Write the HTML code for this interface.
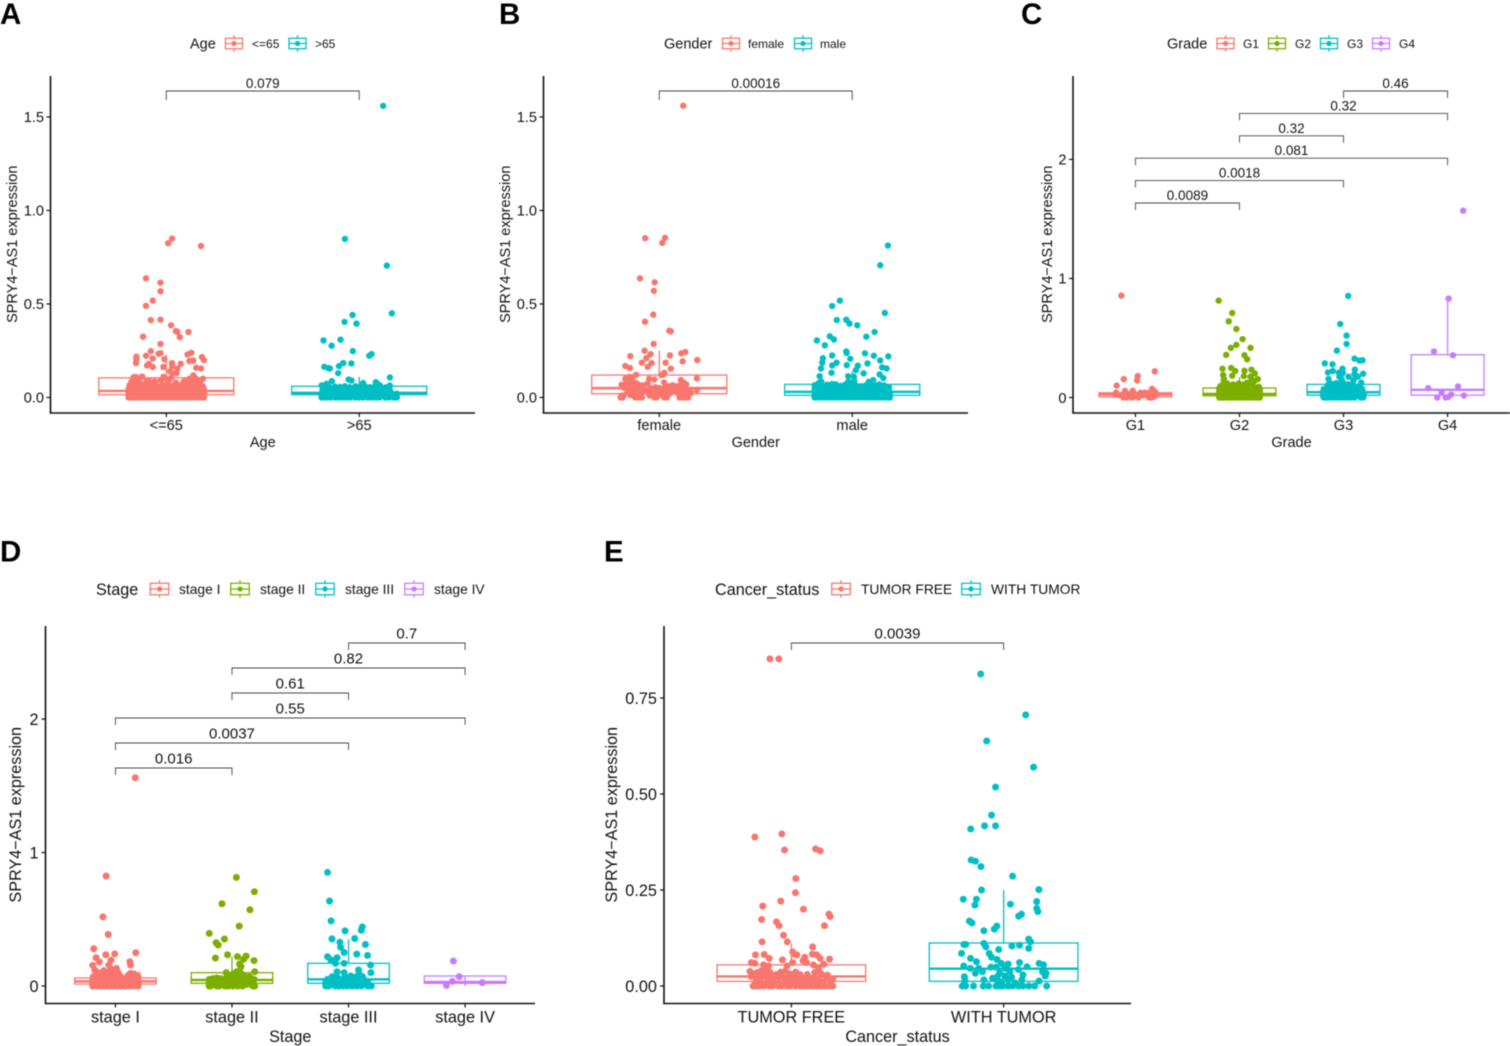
<!DOCTYPE html>
<html lang="en">
<head>
<meta charset="utf-8">
<title>SPRY4-AS1 expression by clinical variable</title>
<style>
html,body{margin:0;padding:0;background:#fff;width:1510px;height:1046px;overflow:hidden}
svg{display:block;filter:blur(0.5px)}
text{font-family:"Liberation Sans",Arial,sans-serif;fill:#111}
</style>
</head>
<body>
<svg id="figure" xmlns="http://www.w3.org/2000/svg" width="1510" height="1046" viewBox="0 0 1510 1046"></svg>
<script>
const twoColors = ['#F8766D', '#00BFC4'];
const fourColors = ['#F8766D', '#7CAE00', '#00BFC4', '#C77CFF'];

/* ---------- A: Age ---------- */
const ageCategories = ['<=65', '>65'];
const ageTicks = [0, 0.5, 1, 1.5];
const ageTickLabels = ['0.0', '0.5', '1.0', '1.5'];
const ageBoxes = [[0, 0.015, 0.035, 0.105, 0.23], [0, 0.015, 0.025, 0.06, 0.11]];
const ageBrackets = [[0, 1, '0.079']];
const ageLowPoints = [[.03,.85],[.01,.825],[.18,.81],[-.105,.637],[-.03,.614],[-.03,.568],[-.07,.518],[-.105,.49],[-.08,.414],[-.03,.416],[.025,.386],[.05,.355],[.057,.352],[.115,.35],[-.12,.325],[.07,.323],[-.03,.286],[-.08,.248],[-.105,.223],[-.155,.218],[-.155,.205],[-.157,.184],[-.04,.234],[-.03,.237],[-.07,.209],[-.01,.205],[.11,.23],[.13,.239],[.185,.216],[.195,.2],[-.1,.171],[-.09,.18],[-.07,.163],[-.015,.163],[.03,.184],[.03,.166],[.075,.18],[.057,.154],[.12,.195],[.14,.198],[.155,.159],[.18,.155],[.02,.14],[.053,.13],[.035,.128],[.14,.118],[.19,.1],[-.015,.11],[-.17,.108],[-.16,.11],[-.15,.105],[-.125,.112],[-.14,.098],[.0,.1],[.025,.105],[.12,.1],[.15,.105],[.16,.09],[-.18,.085],[-.165,.09],[-.1,.09],[-.085,.085],[-.06,.085],[-.03,.092],[.01,.085],[.05,.08],[.09,.085],[.11,.09],[.135,.085],[.175,.08],
[-.19,.065],[-.18,.068],[-.16,.07],[-.14,.072],[-.12,.07],[-.1,.07],[-.075,.068],[-.05,.062],[-.02,.07],[.0,.065],[.03,.062],[.06,.066],[.085,.068],[.11,.07],[.13,.068],[.155,.07],[.18,.06],[.19,.06],
[-.195,.045],[-.185,.05],[-.165,.05],[-.145,.048],[-.125,.052],[-.105,.05],[-.085,.048],[-.06,.045],[-.04,.05],[-.015,.046],[.01,.05],[.035,.045],[.06,.05],[.085,.048],[.105,.05],[.13,.05],[.15,.048],[.175,.046],[.195,.045],
[-.195,.025],[-.18,.03],[-.16,.026],[-.14,.03],[-.12,.028],[-.1,.03],[-.08,.025],[-.055,.028],[-.03,.03],[-.005,.026],[.02,.03],[.045,.028],[.07,.03],[.095,.026],[.12,.03],[.14,.026],[.165,.03],[.19,.028],[.195,.025],
[-.195,.012],[-.185,.012],[-.17,.01],[-.15,.012],[-.13,.01],[-.11,.012],[-.09,.01],[-.07,.012],[-.045,.01],[-.02,.012],[.005,.01],[.03,.012],[.055,.01],[.08,.012],[.105,.01],[.13,.012],[.155,.01],[.18,.012],[.195,.01],
[-.195,0],[-.185,0],[-.175,0],[-.155,0],[-.135,0],[-.115,0],[-.095,0],[-.075,0],[-.055,0],[-.035,0],[-.015,0],[.005,0],[.025,0],[.045,0],[.065,0],[.085,0],[.105,0],[.125,0],[.145,0],[.165,0],[.185,0],[.195,0]];
const ageHighPoints = [[.124,1.559],[-.074,.848],[.143,.705],[.169,.45],[-.035,.441],[-.076,.404],[-.014,.395],[-.185,.305],[-.097,.309],[-.143,.277],[-.033,.248],[.052,.223],[.064,.232],[-.181,.164],[-.16,.157],[-.152,.155],[-.105,.168],[-.083,.184],[-.041,.182],[-.109,.13],[.159,.107],[-.142,.0875],[-.055,.096],[-.04,.091],[.02,.077],[.086,.082],[.107,.064],[-.195,.064],[-.17,.073],[.159,.064],[.095,.072],[-.185,.06],
[-.155,.055],[-.125,.058],[-.1,.056],[-.075,.06],[-.05,.055],[-.02,.06],[.0,.055],[.03,.058],[.055,.055],[.08,.058],[.12,.05],[.14,.055],
[-.19,.04],[-.17,.042],[-.145,.04],[-.12,.042],[-.095,.04],[-.07,.042],[-.045,.04],[-.02,.042],[.01,.04],[.035,.042],[.06,.04],[.085,.042],[.11,.038],[.135,.04],[.16,.038],
[-.195,.022],[-.18,.025],[-.155,.02],[-.13,.024],[-.105,.02],[-.08,.025],[-.055,.02],[-.03,.024],[-.005,.02],[.02,.025],[.045,.02],[.07,.024],[.095,.02],[.12,.022],[.15,.02],[.175,.018],[.195,.02],
[-.195,.008],[-.185,.01],[-.16,.008],[-.135,.01],[-.11,.008],[-.085,.01],[-.06,.008],[-.035,.01],[-.01,.008],[.015,.01],[.04,.008],[.065,.01],[.09,.008],[.115,.01],[.14,.008],[.165,.01],[.19,.008],
[-.195,0],[-.19,0],[-.17,0],[-.15,0],[-.125,0],[-.105,0],[-.085,0],[-.065,0],[-.045,0],[-.02,0],[0,0],[.02,0],[.045,0],[.065,0],[.085,0],[.105,0],[.135,0],[.155,0],[.18,0],[.195,0]];

/* ---------- B: Gender ---------- */
const genderCategories = ['female', 'male'];
const genderTicks = [0, 0.5, 1, 1.5];
const genderTickLabels = ['0.0', '0.5', '1.0', '1.5'];
const genderBoxes = [[0, 0.02, 0.05, 0.12, 0.25], [0, 0.012, 0.03, 0.07, 0.14]];
const genderBrackets = [[0, 1, '0.00016']];
const femalePoints = [[.124,1.56],[-.073,.852],[.03,.854],[.016,.827],[-.1,.637],[-.024,.616],[-.028,.57],[-.031,.443],[-.074,.405],[.052,.357],[.06,.354],[-.029,.286],[-.076,.25],[-.15,.221],[-.045,.232],[-.067,.211],[.135,.243],[.114,.236],[.055,.225],[.121,.193],[.197,.2],[-.09,.186],[-.04,.184],[.033,.186],[-.06,.164],[-.176,.168],[-.152,.157],[.06,.154],[.026,.132],[.02,.122],[-.12,.121],[-.155,.11],[-.176,.1],[-.14,.108],[-.052,.1],[-.026,.096],[.01,.12],[.112,.093],[.195,.102],
[-.195,.068],[-.17,.075],[-.15,.08],[-.125,.08],[-.11,.07],[-.085,.065],[-.06,.075],[.025,.08],[.05,.06],[.07,.065],[.09,.06],[.125,.08],[.11,.065],[.14,.07],
[-.18,.05],[-.16,.055],[-.135,.05],[-.115,.055],[-.1,.045],[-.075,.04],[-.045,.05],[-.02,.055],[0,.05],[.025,.05],[.045,.04],[.07,.045],[.1,.045],[.125,.05],[.155,.04],[.195,.04],
[-.165,.03],[-.14,.03],[-.12,.035],[-.09,.025],[-.06,.03],[-.035,.03],[-.01,.028],[.02,.03],[.06,.025],[.09,.028],[.12,.03],[.15,.03],[.165,.025],
[-.195,.01],[-.15,.012],[-.125,.01],[-.1,.012],[-.05,.01],[-.02,.012],[.015,.01],[.035,.012],[.105,.01],[.13,.012],
[-.2,0],[-.19,0],[-.185,.01],[-.125,0],[-.11,0],[-.09,0],[-.025,0],[-.015,0],[.025,0],[.04,0],[.105,0],[.12,0],[.14,0],[.15,0]];
const malePoints = [[.185,.8125],[.145,.707],[-.064,.518],[-.104,.489],[.169,.452],[-.08,.414],[-.031,.416],[-.014,.395],[.026,.386],[.116,.35],[.073,.325],[-.183,.305],[-.116,.327],[-.095,.31],[-.142,.279],[-.031,.246],[-.029,.238],[.066,.236],[.112,.223],[.187,.22],[-.104,.225],[-.152,.21],[-.01,.207],[-.155,.186],[-.081,.186],[-.104,.171],[-.028,.173],[.029,.17],[.079,.182],[.145,.198],[-.162,.155],[.019,.146],[.155,.161],[.178,.155],[-.107,.132],[.059,.129],[-.169,.114],[-.021,.114],[.009,.111],[.142,.123],[.161,.104],[.109,.093],[.086,.084],[-.17,.08],[-.16,.085],[-.02,.085],[.01,.09],
[-.195,.065],[-.18,.07],[-.155,.062],[-.13,.068],[-.105,.072],[-.085,.07],[-.06,.062],[-.035,.07],[-.01,.065],[.015,.07],[.045,.06],[.07,.065],[.09,.07],[.115,.065],[.14,.07],[.165,.065],[.19,.055],
[-.195,.045],[-.18,.048],[-.16,.045],[-.135,.048],[-.11,.045],[-.085,.048],[-.06,.045],[-.035,.048],[-.01,.045],[.015,.048],[.04,.045],[.065,.048],[.09,.045],[.115,.048],[.14,.045],[.165,.048],[.19,.04],
[-.195,.025],[-.18,.028],[-.155,.025],[-.13,.028],[-.105,.025],[-.08,.028],[-.055,.025],[-.03,.028],[-.005,.025],[.02,.028],[.045,.025],[.07,.028],[.095,.025],[.12,.028],[.145,.025],[.17,.028],[.195,.025],
[-.195,.01],[-.175,.012],[-.15,.01],[-.125,.012],[-.1,.01],[-.075,.012],[-.05,.01],[-.025,.012],[0,.01],[.025,.012],[.05,.01],[.075,.012],[.1,.01],[.125,.012],[.15,.01],[.175,.012],[.195,.01],
[-.195,0],[-.19,0],[-.17,0],[-.15,0],[-.13,0],[-.11,0],[-.09,0],[-.07,0],[-.05,0],[-.03,0],[-.01,0],[.01,0],[.03,0],[.05,0],[.07,0],[.09,0],[.11,0],[.13,0],[.15,0],[.17,0],[.19,0],[.195,0]];

/* ---------- C: Grade ---------- */
const gradeCategories = ['G1', 'G2', 'G3', 'G4'];
const gradeTicks = [0, 1, 2];
const gradeTickLabels = ['0', '1', '2'];
const gradeBoxes = [[0, 0.005, 0.025, 0.04, 0.06], [0, 0.015, 0.03, 0.08, 0.17], [0, 0.02, 0.045, 0.11, 0.24], [0, 0.02, 0.065, 0.36, 0.84]];
const gradeBrackets = [[2, 3, '0.46'], [1, 3, '0.32'], [1, 2, '0.32'], [0, 3, '0.081'], [0, 2, '0.0018'], [0, 1, '0.0089']];
const g1Points = [[-.135,.856],[.186,.22],[.022,.18],[.016,.144],[-.112,.155],[-.18,.1],[.16,.073],[.19,.048],[-.1,.056],[-.026,.056],[-.186,.04],[-.11,.035],[-.02,.04],[.05,.04],[.09,.04],[.13,.04],[.165,.04],[-.195,.025],[-.16,.02],[-.09,.025],[-.05,.03],[-.03,.025],[.02,.025],[.07,.02],[.11,.02],[.15,.025],[.195,.02],[-.11,.008],[-.085,.005],[-.05,.008],[-.03,.005],[.01,.008],[.03,.005],[.13,.008],[.15,.005],[.18,.008],[-.115,0],[-.08,0],[-.03,0],[.03,0],[.13,0],[.155,0]];
const g2Points = [[-.2,.814],[-.07,.71],[-.103,.64],[-.03,.575],[.03,.49],[-.03,.442],[-.083,.417],[.106,.417],[-.128,.358],[.048,.355],[.074,.321],[-.163,.242],[-.08,.248],[.115,.234],[-.04,.223],[.048,.225],[.147,.203],[-.157,.189],[-.07,.183],[.042,.18],[-.15,.155],[.106,.175],[.176,.155],[.138,.132],[-.118,.118],[-.006,.118],[.074,.124],[-.183,.096],[.186,.09],[-.15,.13],[.12,.15],[.04,.11],[-.06,.11],[.1,.105],
[-.195,.075],[-.17,.08],[-.14,.085],[-.105,.09],[-.07,.088],[-.035,.095],[0,.09],[.03,.095],[.065,.088],[.095,.085],[.13,.085],[.16,.08],[.195,.07],
[-.195,.05],[-.175,.055],[-.145,.055],[-.115,.06],[-.085,.055],[-.05,.06],[-.02,.055],[.015,.06],[.045,.055],[.08,.06],[.11,.055],[.145,.06],[.175,.055],[.195,.05],
[-.195,.028],[-.18,.03],[-.15,.03],[-.12,.032],[-.09,.03],[-.055,.032],[-.025,.03],[.01,.032],[.04,.03],[.075,.032],[.105,.03],[.14,.032],[.17,.03],[.195,.028],
[-.195,.01],[-.18,.012],[-.15,.01],[-.12,.012],[-.09,.01],[-.055,.012],[-.025,.01],[.01,.012],[.04,.01],[.075,.012],[.105,.01],[.14,.012],[.17,.01],[.195,.01],
[-.195,0],[-.185,0],[-.16,0],[-.13,0],[-.1,0],[-.07,0],[-.04,0],[-.01,0],[.02,0],[.05,0],[.08,0],[.11,0],[.14,0],[.17,0],[.195,0]];
const g3Points = [[.045,.853],[-.032,.617],[.029,.52],[.029,.45],[-.064,.394],[.106,.327],[.154,.31],[.183,.313],[-.18,.287],[-.106,.279],[-.01,.242],[.109,.234],[-.103,.223],[-.15,.211],[-.045,.208],[-.006,.208],[.189,.2],[.106,.197],[-.144,.155],[-.04,.175],[.048,.175],[.138,.175],[.096,.146],[-.016,.146],
[-.15,.105],[-.11,.115],[-.07,.12],[-.03,.12],[.01,.115],[.05,.11],[.09,.11],[.17,.125],[.14,.09],
[-.19,.07],[-.16,.08],[-.13,.085],[-.095,.09],[-.055,.095],[-.02,.09],[.02,.09],[.06,.085],[.1,.08],[.16,.095],[.18,.07],
[-.195,.05],[-.17,.055],[-.14,.055],[-.105,.06],[-.07,.055],[-.035,.06],[0,.055],[.035,.06],[.07,.055],[.105,.055],[.14,.055],[.18,.05],
[-.195,.03],[-.18,.03],[-.145,.032],[-.11,.03],[-.075,.032],[-.04,.03],[-.005,.032],[.03,.03],[.065,.032],[.1,.03],[.135,.032],[.17,.03],[.195,.03],
[-.195,.01],[-.17,.012],[-.135,.01],[-.1,.012],[-.065,.01],[-.03,.012],[.005,.01],[.04,.012],[.075,.01],[.11,.012],[.15,.01],[.19,.01],
[-.19,0],[-.16,0],[-.125,0],[-.095,0],[-.06,0],[-.03,0],[.005,0],[.035,0],[.07,0],[.105,0],[.165,0],[.19,0]];
const g4Points = [[.15,1.569],[.01,.831],[-.131,.386],[.051,.355],[-.186,.079],[.1,.093],[-.058,.042],[.035,.025],[.157,.017],[-.1,0],[-.019,0],[.006,.005]];

/* ---------- D: Stage ---------- */
const stageCategories = ['stage I', 'stage II', 'stage III', 'stage IV'];
const stageTicks = [0, 1, 2];
const stageTickLabels = ['0', '1', '2'];
const stageBoxes = [[0, 0.015, 0.035, 0.06, 0.11], [0, 0.02, 0.045, 0.1, 0.22], [0, 0.02, 0.05, 0.17, 0.35], [0, 0.02, 0.03, 0.075, 0.0]];
const stageBrackets = [[2, 3, '0.7'], [1, 3, '0.82'], [1, 2, '0.61'], [0, 3, '0.55'], [0, 2, '0.0037'], [0, 1, '0.016']];
const stage1Points = [[.17,1.56],[-.08,.824],[-.107,.518],[-.062,.386],[-.186,.279],[-.083,.234],[-.006,.241],[.175,.249],[-.166,.212],[-.038,.194],[-.139,.18],[.124,.182],[.13,.157],[-.195,.155],[-.056,.157],[.009,.132],[-.177,.12],[-.1,.115],[-.03,.125],[-.05,.11],[.02,.105],
[-.15,.1],[-.12,.095],[-.08,.095],[-.04,.09],[0,.09],[.03,.085],[.13,.095],[.16,.09],[.19,.08],[.11,.08],
[-.19,.07],[-.16,.075],[-.125,.075],[-.09,.07],[-.055,.07],[-.02,.065],[.015,.07],[.05,.065],[.1,.065],[.135,.07],[.17,.07],[.195,.065],
[-.195,.045],[-.17,.05],[-.135,.05],[-.1,.05],[-.065,.045],[-.03,.05],[.005,.05],[.04,.045],[.075,.04],[.105,.05],[.14,.05],[.175,.05],[.195,.04],
[-.195,.025],[-.175,.028],[-.14,.028],[-.105,.025],[-.07,.028],[-.035,.025],[0,.028],[.035,.025],[.07,.028],[.105,.025],[.14,.028],[.175,.025],[.195,.025],
[-.195,.008],[-.175,.01],[-.14,.008],[-.105,.01],[-.07,.008],[-.035,.01],[0,.008],[.035,.01],[.07,.008],[.105,.01],[.14,.008],[.175,.01],[.195,.008],
[-.195,0],[-.19,0],[-.16,0],[-.125,0],[-.09,0],[-.055,0],[-.02,0],[.015,0],[.05,0],[.085,0],[.12,0],[.155,0],[.19,0],[.195,0]];
const stage2Points = [[.038,.814],[.192,.706],[-.086,.616],[.154,.571],[.062,.449],[-.195,.394],[-.065,.352],[-.136,.324],[-.118,.307],[-.142,.21],[-.038,.234],[.047,.22],[.121,.224],[.1,.2],[.189,.19],[.065,.165],[.077,.145],[.195,.107],[-.05,.1],[.077,.095],[.04,.107],[.01,.09],
[-.03,.08],[.02,.075],[.06,.08],[.1,.08],[.15,.07],
[-.195,.05],[-.165,.055],[-.13,.06],[-.095,.055],[-.05,.06],[-.015,.06],[.03,.055],[.07,.06],[.11,.06],[.135,.05],[.19,.05],
[-.195,.03],[-.17,.03],[-.11,.035],[-.07,.03],[-.03,.035],[.01,.035],[.05,.035],[.09,.035],[.125,.03],[.165,.03],
[-.195,.012],[-.155,.012],[-.115,.012],[-.065,.012],[-.035,.015],[.01,.012],[.05,.015],[.095,.012],[.13,.012],[.185,.012],
[-.195,0],[-.185,0],[-.13,0],[-.11,0],[-.06,0],[-.03,0],[.01,0],[.05,0],[.09,0],[.18,0],[.195,0]];
const stage3Points = [[-.18,.851],[-.163,.637],[-.15,.488],[.118,.443],[.11,.418],[-.03,.413],[-.142,.353],[.053,.356],[-.074,.328],[.145,.311],[-.068,.291],[-.038,.251],[.071,.239],[.163,.229],[-.18,.219],[-.098,.212],[-.15,.195],[.189,.157],[-.112,.17],[-.038,.17],[.192,.1],[.086,.12],[-.038,.1],[-.098,.107],[.09,.09],[-.14,.07],[-.1,.07],[-.03,.07],[.02,.075],[.07,.07],[.12,.07],
[-.18,.05],[-.14,.05],[-.085,.055],[-.05,.05],[-.01,.055],[.04,.05],[.085,.05],[.13,.05],[.165,.03],
[-.195,.03],[-.17,.03],[-.12,.025],[-.075,.03],[-.035,.028],[.01,.03],[.055,.03],[.1,.028],[.15,.03],
[-.195,.012],[-.16,.015],[-.125,.012],[-.07,.012],[-.03,.012],[.015,.012],[.06,.015],[.11,.012],[.17,.012],
[-.195,0],[-.17,0],[-.115,0],[-.08,0],[-.045,0],[-.01,0],[.03,0],[.07,0],[.11,0],[.165,0],[.195,0]];
const stage4Points = [[-.1,.187],[-.05,.07],[-.11,.035],[-.16,.005],[.148,.025]];

/* ---------- E: Cancer status ---------- */
const statusCategories = ['TUMOR FREE', 'WITH TUMOR'];
const statusTicks = [0, 0.25, 0.5, 0.75];
const statusTickLabels = ['0.00', '0.25', '0.50', '0.75'];
const statusBoxes = [[0, 0.012, 0.025, 0.055, 0.11], [0, 0.012, 0.045, 0.112, 0.25]];
const statusBrackets = [[0, 1, '0.0039']];
const freePoints = [[-.101,.852],[-.059,.852],[-.172,.388],[-.045,.396],[-.032,.354],[.114,.357],[.136,.352],[.021,.28],[.019,.243],[-.05,.221],[-.135,.208],[.057,.2],[.177,.187],[.183,.181],[-.14,.173],[-.07,.167],[-.058,.157],[.156,.157],[-.037,.132],[-.138,.115],[-.019,.115],[.1,.102],[-.128,.082],[-.169,.081],[.006,.089],[.015,.083],[.026,.081],[.099,.083],[.12,.081],[.136,.072],[.18,.07],[-.104,.072],[.063,.075],[-.042,.068],[.055,.066],[.071,.061],[-.188,.061],[-.172,.059],[-.131,.055],[-.107,.052],[-.021,.052],[.006,.061],[.104,.055],[.153,.057],[.128,.046],[-.14,.04],[-.123,.046],
[-.195,.038],[-.175,.032],[-.16,.035],[-.12,.03],[-.1,.035],[-.07,.03],[-.05,.036],[-.03,.038],[-.01,.032],[.02,.036],[.04,.03],[.075,.03],[.11,.035],[.14,.032],[.17,.028],
[-.19,.025],[-.165,.02],[-.14,.022],[-.11,.018],[-.085,.02],[-.06,.024],[-.035,.02],[-.01,.018],[.015,.022],[.045,.018],[.075,.018],[.1,.02],[.13,.018],[.165,.02],[.195,.018],
[-.17,.008],[-.145,.01],[-.115,.008],[-.09,.01],[-.06,.008],[-.025,.01],[.01,.008],[.035,.01],[.065,.008],[.095,.01],[.125,.008],[.15,.01],[.185,.008],
[-.18,0],[-.165,0],[-.15,0],[-.13,0],[-.105,0],[-.09,0],[-.06,0],[-.045,0],[-.02,0],[-.005,0],[.02,0],[.04,0],[.06,0],[.08,0],[.1,0],[.12,0],[.14,0],[.16,0],[.18,0],[.195,0]];
const withPoints = [[-.108,.8125],[.104,.706],[-.08,.638],[.141,.57],[-.038,.518],[-.057,.445],[-.09,.417],[-.038,.417],[-.155,.409],[-.153,.328],[-.133,.325],[-.107,.311],[.042,.286],[-.104,.25],[.166,.251],[-.19,.226],[-.128,.226],[-.135,.211],[.032,.213],[.156,.22],[.156,.202],[.161,.194],[.084,.187],[.071,.182],[-.161,.169],[-.149,.164],[-.032,.156],[-.044,.148],[-.093,.144],[.118,.122],[.127,.115],[.118,.098],[-.187,.108],[-.179,.108],[-.093,.111],[-.084,.102],[-.023,.095],[.039,.104],[.075,.106],[-.198,.085],[-.068,.085],[-.057,.075],[-.156,.072],[-.128,.063],[-.031,.069],[.075,.061],[.167,.059],[.188,.055],[-.188,.052],[-.011,.059],[.021,.057],[.11,.05],[-.157,.046],[-.117,.046],[-.06,.049],[-.036,.049],[.006,.046],[.07,.043],[.183,.037],[.2,.033],[-.133,.033],[-.1,.037],[-.019,.034],[.029,.037],[.091,.029],[-.185,.024],[.196,.026],[-.052,.02],[-.03,.024],[.005,.026],[.037,.023],[.086,.016],[.167,.013],[-.182,.014],[-.093,.016],[-.028,.014],[.021,.016],[.054,.008],[-.01,.01],
[-.195,0],[-.179,0],[-.142,0],[-.096,0],[-.071,0],[-.036,0],[-.019,0],[-.003,0],[.021,0],[.042,0],[.070,0],[.091,0],[.119,0],[.146,0],[.203,0]];

const NS = 'http://www.w3.org/2000/svg';
const figure = document.getElementById('figure');

function mk(tag, attrs, parent, content) {
  const el = document.createElementNS(NS, tag);
  for (const k in attrs) el.setAttribute(k, attrs[k]);
  if (content !== undefined) el.textContent = content;
  parent.appendChild(el);
  return el;
}

function drawPanel(p) {
  const L = p.layout;
  const g = mk('g', {}, figure);
  
  

  const n = p.categories.length;
  const xScale = i => L.left + (i + 0.6) * (L.right - L.left) / (n - 1 + 1.2);
  const unit = (L.right - L.left) / (n - 1 + 1.2);
  const yScale = v => L.bottom - (v - L.yMin) * (L.bottom - L.top) / (L.yMax - L.yMin);

  /* panel letter */
  const letter = mk('text', {x: L.letterX, y: L.letterY, 'font-size': 29.5, 'font-weight': 'bold', fill: '#000', style: 'fill:#000'}, g, p.letter);
  
  

  /* boxes */
  p.boxes.forEach((b, i) => {
    const cx = xScale(i), hw = 0.35 * unit, col = p.colors[i];
    const box = mk('g', {fill: 'none', stroke: col, 'stroke-width': 1.3}, g);
    
    
    mk('rect', {x: cx - hw, y: yScale(b[3]), width: 2 * hw, height: yScale(b[1]) - yScale(b[3])}, box);
    mk('line', {x1: cx - hw, x2: cx + hw, y1: yScale(b[2]), y2: yScale(b[2]), 'stroke-width': 2.4}, box);
    mk('line', {x1: cx, x2: cx, y1: yScale(b[3]), y2: yScale(b[4])}, box);
    mk('line', {x1: cx, x2: cx, y1: yScale(b[1]), y2: yScale(b[0])}, box);
  });

  /* jittered points */
  p.groups.forEach((pts, i) => {
    const cg = mk('g', {fill: p.colors[i]}, g);
    
    
    pts.forEach(pt => {
      const c = mk('circle', {cx: xScale(i) + pt[0] * unit, cy: yScale(pt[1]), r: L.pointR}, cg);
      
      
    });
  });

  /* axes */
  const yAxis = mk('line', {x1: L.left, x2: L.left, y1: L.top, y2: L.bottom, stroke: '#111', 'stroke-width': 1.6}, g);
  
  
  const xAxis = mk('line', {x1: L.left - 0.8, x2: L.right, y1: L.bottom, y2: L.bottom, stroke: '#111', 'stroke-width': 1.6}, g);
  
  

  p.ticks.forEach((t, i) => {
    mk('line', {x1: L.left - 4, x2: L.left, y1: yScale(t), y2: yScale(t), stroke: '#111', 'stroke-width': 1.2}, g);
    const lab = mk('text', {x: L.left - L.tickGap, y: yScale(t) + L.tickFont * 0.36, 'font-size': L.tickFont, 'text-anchor': 'end'}, g, p.tickLabels[i]);
    
    
  });

  p.categories.forEach((c, i) => {
    mk('line', {x1: xScale(i), x2: xScale(i), y1: L.bottom, y2: L.bottom + 4, stroke: '#111', 'stroke-width': 1.2}, g);
    const lab = mk('text', {x: xScale(i), y: L.xTickY, 'font-size': L.tickFont, 'text-anchor': 'middle'}, g, c);
    
    
  });

  const xTitle = mk('text', {x: (L.left + L.right) / 2, y: L.xTitleY, 'font-size': L.titleFont, 'text-anchor': 'middle'}, g, p.variable);
  
  
  const yTitle = mk('text', {transform: 'translate(' + L.yTitleX + ',' + (L.top + L.bottom + L.yTitleShift) / 2 + ') rotate(-90)', 'font-size': L.titleFont, 'text-anchor': 'middle'}, g, 'SPRY4\u2212AS1 expression');
  
  

  /* significance brackets */
  p.brackets.forEach((b, i) => {
    const y = L.bracketTop + i * L.bracketStep, x1 = xScale(b[0]), x2 = xScale(b[1]);
    const br = mk('path', {d: 'M' + x1 + ' ' + (y + L.bracketTip) + 'V' + y + 'H' + x2 + 'V' + (y + L.bracketTip), fill: 'none', stroke: '#444', 'stroke-width': 0.9}, g);
    
    
    const lab = mk('text', {x: (x1 + x2) / 2, y: y - L.bracketGap, 'font-size': L.pFont, 'text-anchor': 'middle'}, g, b[2]);
    
    
  });

  /* legend */
  const lg = mk('g', {}, g);
  
  
  const legTitle = mk('text', {x: L.legendTitleX, y: L.legendY + L.legendTitleFont * 0.36, 'font-size': L.legendTitleFont}, lg, p.variable);
  
  
  p.categories.forEach((c, i) => {
    const kx = L.legendKeys[i], col = p.colors[i], ky = L.legendY;
    const key = mk('g', {stroke: col, fill: 'none', 'stroke-width': 1.3}, lg);
    
    
    mk('rect', {x: kx - L.keyW / 2, y: ky - L.keyH / 2, width: L.keyW, height: L.keyH}, key);
    mk('line', {x1: kx - L.keyW / 2, x2: kx + L.keyW / 2, y1: ky, y2: ky}, key);
    mk('line', {x1: kx, x2: kx, y1: ky - L.keyH / 2 - 3, y2: ky - L.keyH / 2}, key);
    mk('line', {x1: kx, x2: kx, y1: ky + L.keyH / 2, y2: ky + L.keyH / 2 + 3}, key);
    mk('circle', {cx: kx, cy: ky, r: 2.6, fill: col, stroke: 'none'}, key);
    const t = mk('text', {x: L.legendText[i], y: ky + L.legendFont * 0.36, 'font-size': L.legendFont}, lg, c);
    
    
  });
}

const topRow = {top: 76, bottom: 413, xTickY: 430, xTitleY: 447, tickFont: 14.6, tickGap: 6.5, titleFont: 14.5, pFont: 13.5, bracketGap: 3, legendY: 43.5, legendTitleFont: 14.5, legendFont: 12, keyW: 17, keyH: 10.5, letterY: 24, pointR: 3.2, yTitleShift: -0.5};
const bottomRow = {top: 626, bottom: 1003.5, xTickY: 1022.5, xTitleY: 1042, tickFont: 16.3, tickGap: 7, titleFont: 16.2, pFont: 15, bracketGap: 4.5, legendY: 589, legendTitleFont: 16.2, legendFont: 13.8, keyW: 18.5, keyH: 11.5, letterY: 561.5, pointR: 3.5, bracketTip: 7, yTitleShift: 0};

drawPanel({id: 'age', letter: 'A', variable: 'Age', categories: ageCategories, colors: twoColors, groups: [ageLowPoints, ageHighPoints], boxes: ageBoxes, ticks: ageTicks, tickLabels: ageTickLabels, brackets: ageBrackets,
  layout: Object.assign({}, topRow, {left: 50.5, right: 475, yMin: -0.083, yMax: 1.719, yTitleX: 17, bracketTop: 91, bracketStep: 22.4, bracketTip: 9, letterX: 0, legendTitleX: 190, legendKeys: [234, 297.5], legendText: [252, 315]})});

drawPanel({id: 'gender', letter: 'B', variable: 'Gender', categories: genderCategories, colors: twoColors, groups: [femalePoints, malePoints], boxes: genderBoxes, ticks: genderTicks, tickLabels: genderTickLabels, brackets: genderBrackets,
  layout: Object.assign({}, topRow, {left: 543.5, right: 968, yMin: -0.083, yMax: 1.719, yTitleX: 510, bracketTop: 91, bracketStep: 22.4, bracketTip: 9, letterX: 499, legendTitleX: 664, legendKeys: [731, 803], legendText: [748, 820]})});

drawPanel({id: 'grade', letter: 'C', variable: 'Grade', categories: gradeCategories, colors: fourColors, groups: [g1Points, g2Points, g3Points, g4Points], boxes: gradeBoxes, ticks: gradeTicks, tickLabels: gradeTickLabels, brackets: gradeBrackets,
  layout: Object.assign({}, topRow, {left: 1073, right: 1510, yMin: -0.13, yMax: 2.70, yTitleX: 1052, bracketTop: 91, bracketStep: 22.4, bracketTip: 7, letterX: 1021, legendTitleX: 1167, legendKeys: [1225.5, 1277, 1329, 1381], legendText: [1243, 1295, 1347, 1399]})});

drawPanel({id: 'stage', letter: 'D', variable: 'Stage', categories: stageCategories, colors: fourColors, groups: [stage1Points, stage2Points, stage3Points, stage4Points], boxes: stageBoxes, ticks: stageTicks, tickLabels: stageTickLabels, brackets: stageBrackets,
  layout: Object.assign({}, bottomRow, {left: 45.5, right: 535, yMin: -0.131, yMax: 2.697, yTitleX: 21, bracketTop: 643, bracketStep: 25, letterX: 0, legendTitleX: 96, legendKeys: [159.5, 240, 325, 414], legendText: [179, 260, 345, 434]})});

drawPanel({id: 'status', letter: 'E', variable: 'Cancer_status', categories: statusCategories, colors: twoColors, groups: [freePoints, withPoints], boxes: statusBoxes, ticks: statusTicks, tickLabels: statusTickLabels, brackets: statusBrackets,
  layout: Object.assign({}, bottomRow, {left: 664, right: 1131, yMin: -0.0456, yMax: 0.9375, yTitleX: 617, bracketTop: 643, bracketStep: 25, letterX: 604, legendTitleX: 715, legendKeys: [841, 971], legendText: [861, 991]})});
</script>
</body>
</html>
